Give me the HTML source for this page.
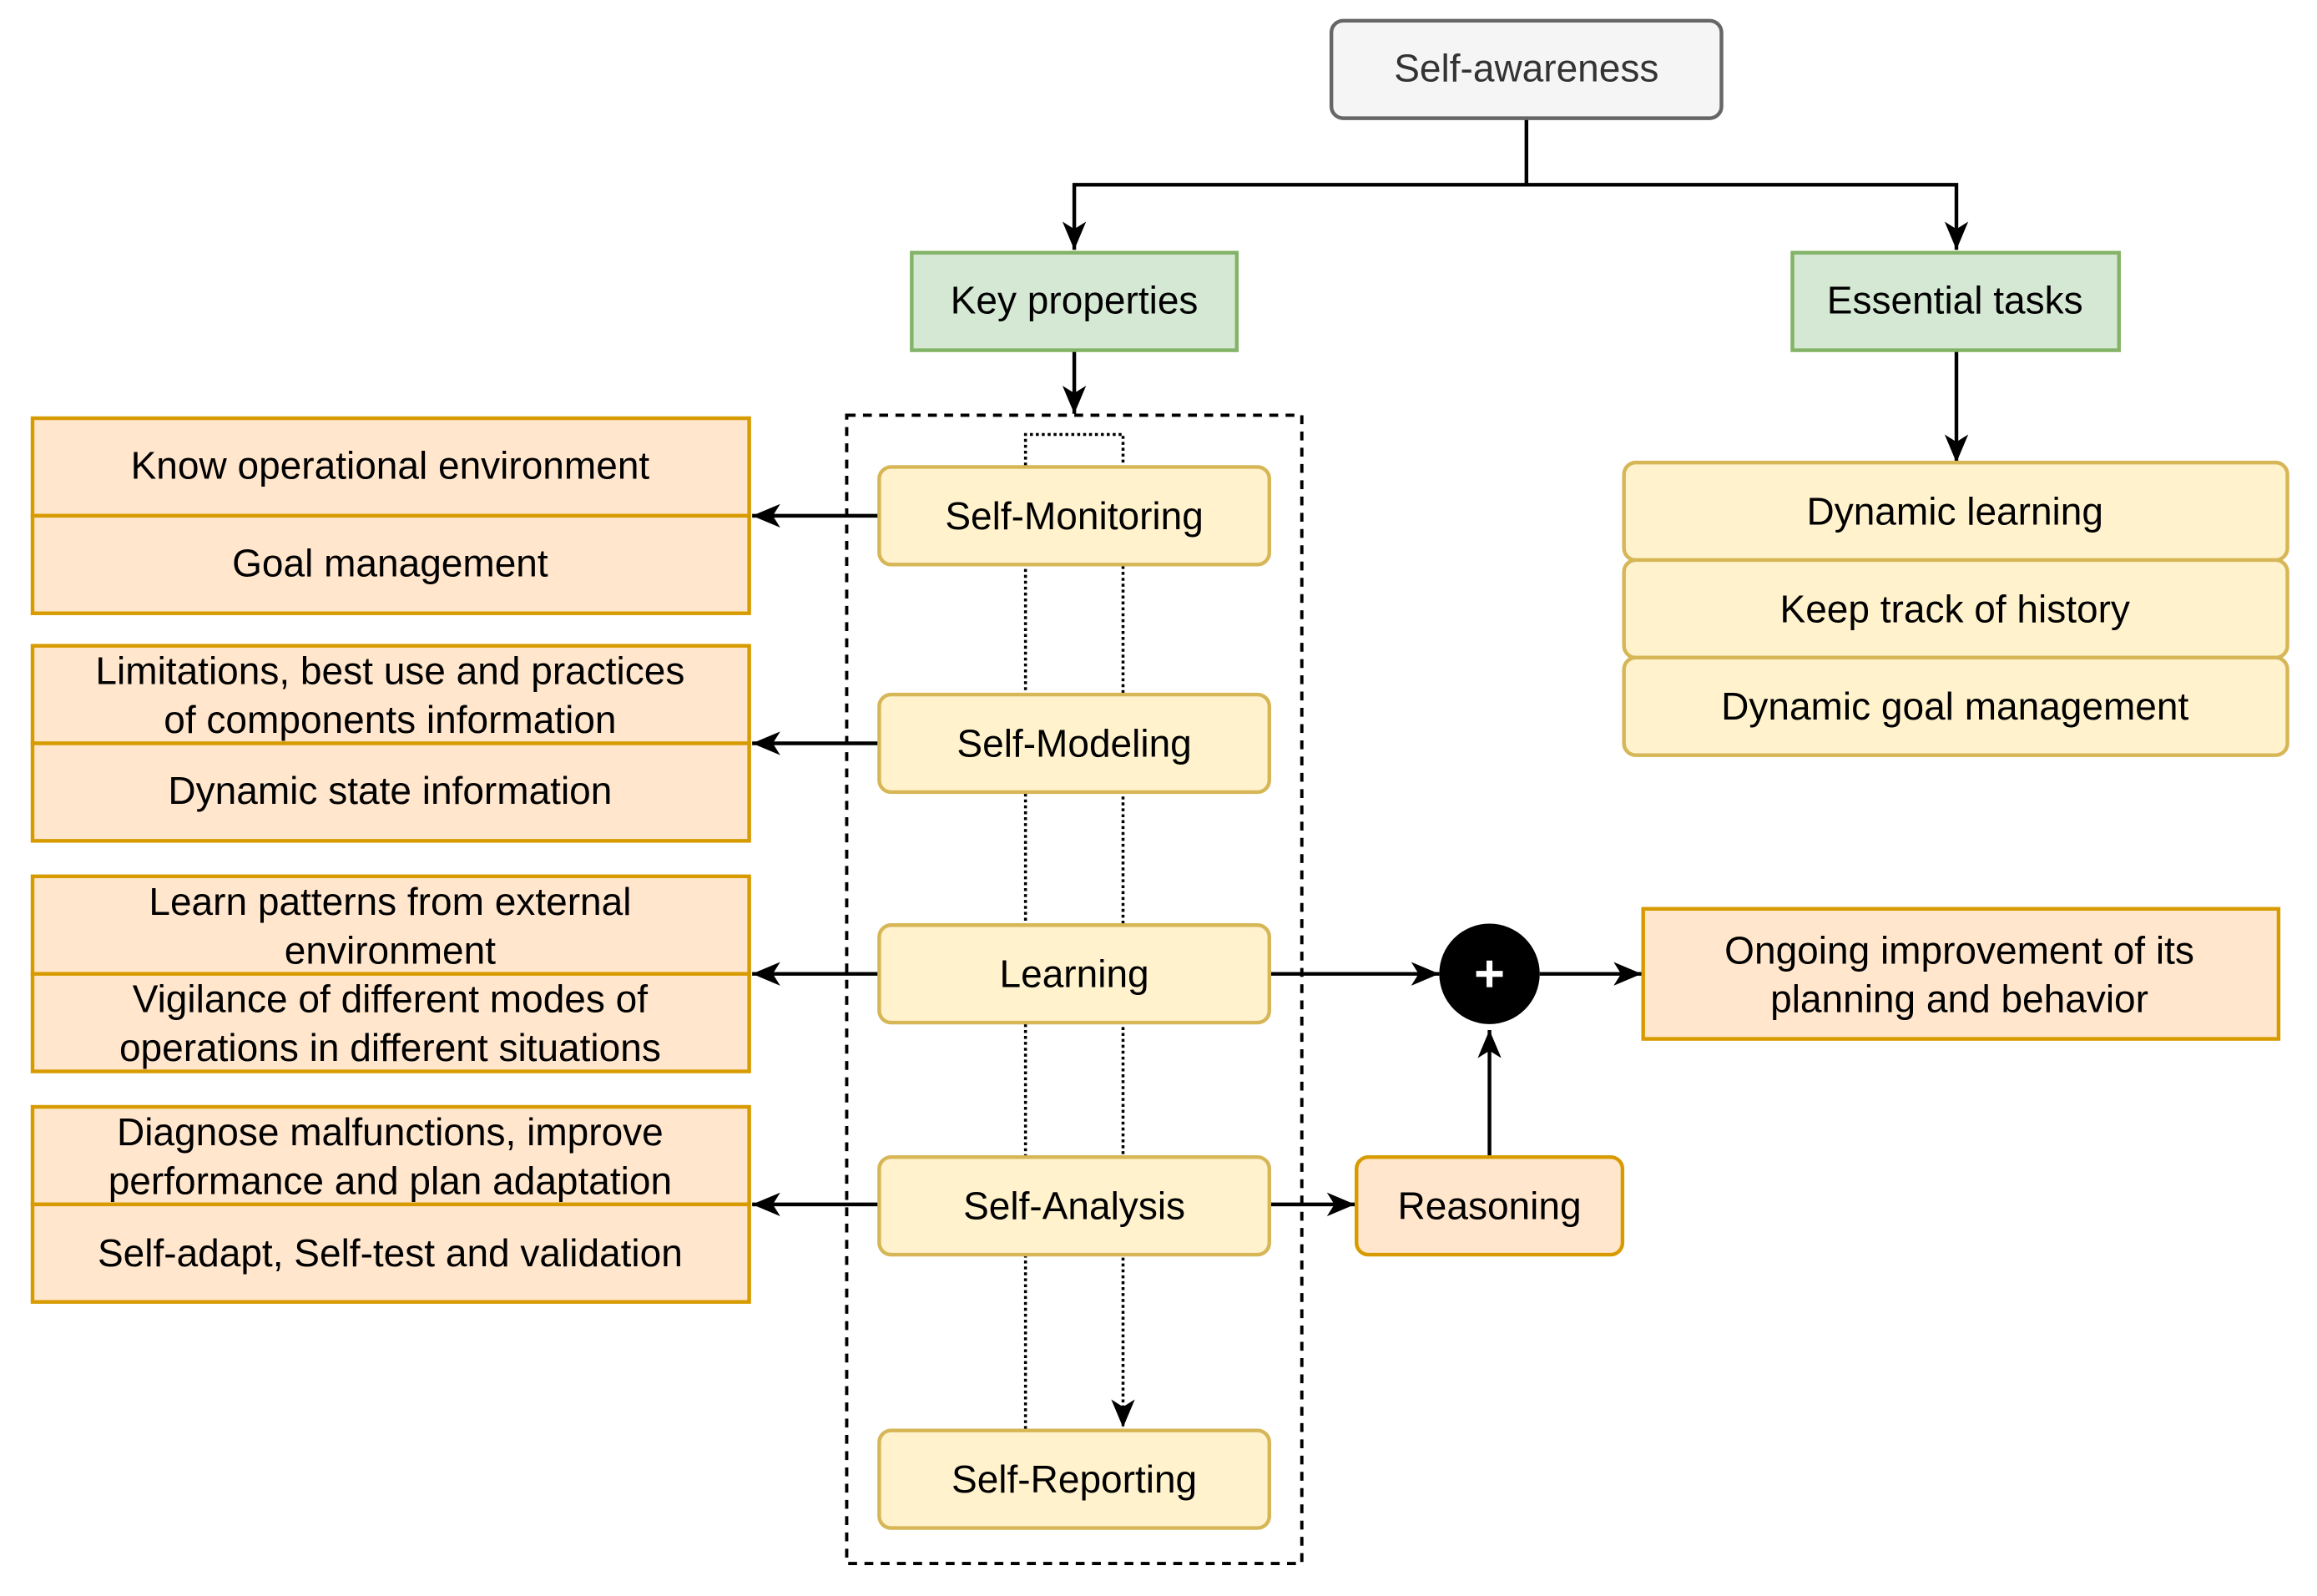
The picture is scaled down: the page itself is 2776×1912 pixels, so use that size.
<!DOCTYPE html>
<html><head><meta charset="utf-8"><style>html,body{margin:0;padding:0;background:#fff}svg{display:block}</style></head>
<body>
<svg width="2776" height="1912" viewBox="0 0 1568 1080" xmlns="http://www.w3.org/2000/svg" font-family="'Liberation Sans', sans-serif" font-size="26" text-anchor="middle">
<defs>
<marker id="b" viewBox="0 0 20 20" refX="19" refY="10" markerWidth="20" markerHeight="20" orient="auto" markerUnits="userSpaceOnUse">
<path d="M0,2 L19,10 L0,18 L5,10 Z" fill="#000"/>
</marker>
</defs>
<g stroke="#000" stroke-width="2.5" fill="none">
<path d="M1033,80 V125 H727 V169" marker-end="url(#b)"/>
<path d="M1033,125 H1324 V169" marker-end="url(#b)"/>
<path d="M727,237 V280" marker-end="url(#b)"/>
<path d="M1324,237 V313" marker-end="url(#b)"/>
<path d="M595,349 H509" marker-end="url(#b)"/>
<path d="M595,503 H509" marker-end="url(#b)"/>
<path d="M595,659 H509" marker-end="url(#b)"/>
<path d="M595,815 H509" marker-end="url(#b)"/>
<path d="M859,659 H974" marker-end="url(#b)"/>
<path d="M1042,659 H1111" marker-end="url(#b)"/>
<path d="M859,815 H917" marker-end="url(#b)"/>
<path d="M1008,783 V697" marker-end="url(#b)"/>
</g>
<rect x="573" y="281" width="308" height="777" fill="none" stroke="#000" stroke-width="2.2" stroke-dasharray="6,5"/>
<path d="M694,967 V294 H760 V966" fill="none" stroke="#000" stroke-width="2" stroke-dasharray="2,2" marker-end="url(#b)"/>
<rect x="901" y="14" width="264" height="66" rx="8" fill="#f5f5f5" stroke="#666" stroke-width="2.5"/>
<text x="1033" y="55" fill="#333">Self-awareness</text>
<g fill="#d5e8d4" stroke="#82b366" stroke-width="2.5">
<rect x="617" y="171" width="220" height="66"/>
<rect x="1213" y="171" width="221" height="66"/>
</g>
<text x="727" y="212">Key properties</text>
<text x="1323" y="212">Essential tasks</text>
<g fill="#fff2cc" stroke="#d6b656" stroke-width="2.5">
<rect x="595" y="316" width="264" height="66" rx="8"/>
<rect x="595" y="470" width="264" height="66" rx="8"/>
<rect x="595" y="626" width="264" height="66" rx="8"/>
<rect x="595" y="783" width="264" height="66" rx="8"/>
<rect x="595" y="968" width="264" height="66" rx="8"/>
<rect x="1099" y="313" width="449" height="66" rx="8"/>
<rect x="1099" y="379" width="449" height="66" rx="8"/>
<rect x="1099" y="445" width="449" height="66" rx="8"/>
</g>
<text x="727" y="358">Self-Monitoring</text>
<text x="727" y="512">Self-Modeling</text>
<text x="727" y="668">Learning</text>
<text x="727" y="825">Self-Analysis</text>
<text x="727" y="1010">Self-Reporting</text>
<text x="1323" y="355">Dynamic learning</text>
<text x="1323" y="421">Keep track of history</text>
<text x="1323" y="487">Dynamic goal management</text>
<g fill="#ffe6cc" stroke="#d79b00" stroke-width="2.5">
<rect x="22" y="283" width="485" height="66"/>
<rect x="22" y="349" width="485" height="66"/>
<rect x="22" y="437" width="485" height="66"/>
<rect x="22" y="503" width="485" height="66"/>
<rect x="22" y="593" width="485" height="66"/>
<rect x="22" y="659" width="485" height="66"/>
<rect x="22" y="749" width="485" height="66"/>
<rect x="22" y="815" width="485" height="66"/>
<rect x="1112" y="615" width="430" height="88"/>
<rect x="918" y="783" width="180" height="66" rx="8"/>
</g>
<text x="264" y="324">Know operational environment</text>
<text x="264" y="390">Goal management</text>
<text x="264" y="463">Limitations, best use and practices</text>
<text x="264" y="496">of components information</text>
<text x="264" y="544">Dynamic state information</text>
<text x="264" y="619">Learn patterns from external</text>
<text x="264" y="652">environment</text>
<text x="264" y="685">Vigilance of different modes of</text>
<text x="264" y="718">operations in different situations</text>
<text x="264" y="775">Diagnose malfunctions, improve</text>
<text x="264" y="808">performance and plan adaptation</text>
<text x="264" y="857">Self-adapt, Self-test and validation</text>
<text x="1326" y="652">Ongoing improvement of its</text>
<text x="1326" y="685">planning and behavior</text>
<text x="1008" y="825">Reasoning</text>
<circle cx="1008" cy="659" r="34" fill="#000"/>
<path d="M1008,650 V668 M999,659 H1017" stroke="#fff" stroke-width="4"/>
</svg>
</body></html>
